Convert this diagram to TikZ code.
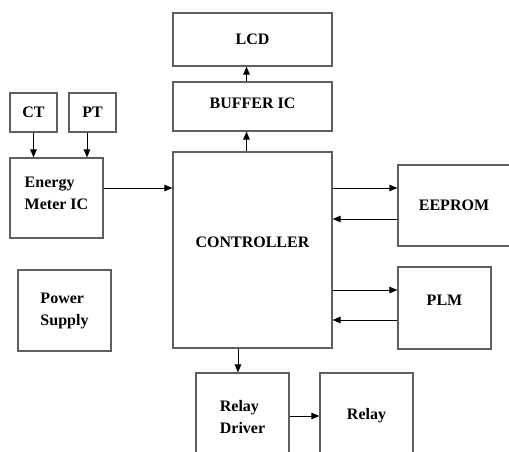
\documentclass[tikz,border=0pt]{standalone}
\usepackage{fontspec}
\setmainfont{Liberation Serif}
\usetikzlibrary{arrows.meta}
\definecolor{edge}{HTML}{5F5F5F}

\begin{document}
\begin{tikzpicture}[x=1pt,y=-1pt,font=\fontsize{16}{22}\selectfont\bfseries,
    blk/.style={draw=edge,line width=1.2pt,fill=white,inner sep=0pt,align=left},
    arr/.style={-{Triangle[length=8pt,width=6.5pt]},line width=1pt}]
        \useasboundingbox (0,0) rectangle (509,452);
        \clip (0,0) rectangle (509,452);
        \node[blk,minimum width=159,minimum height=53] (lcd) at (252.5,39.5) {LCD};
        \node[blk,minimum width=159,minimum height=49,text depth=6pt] (buf) at (252.5,106.5) {BUFFER IC};
        \node[blk,minimum width=47,minimum height=39] (ct) at (33.5,112.5) {CT};
        \node[blk,minimum width=47,minimum height=39] (pt) at (92.5,112.5) {PT};
        \node[blk,minimum width=93,minimum height=80,text depth=10pt] (em) at (56.5,198) {Energy\\Meter IC};
        \node[blk,minimum width=159,minimum height=196,text depth=16pt] (ctrl) at (252.5,250) {CONTROLLER};
        \node[blk,minimum width=112,minimum height=81] (ee) at (454,205.5) {EEPROM};
        \node[blk,minimum width=93,minimum height=82,text depth=16pt] (plm) at (444.5,308) {PLM};
        \node[blk,minimum width=93,minimum height=81] (ps) at (64.5,310.5) {Power\\Supply};
        \node[blk,minimum width=93,minimum height=97,text depth=10pt] (rd) at (242.5,421.5) {Relay\\Driver};
        \node[blk,minimum width=93,minimum height=97,text depth=15pt] (rl) at (366.5,421.5) {Relay};
        \draw[arr] (ct.south) -- (ct.south |- em.north);
        \draw[arr] ([xshift=-5.5pt]pt.south) -- ([xshift=-5.5pt]pt.south |- em.north);
        \draw[arr] ([yshift=10pt]em.east) -- ([yshift=10pt]em.east -| ctrl.west);
        \draw[arr] ([xshift=-6pt]ctrl.north) -- ([xshift=-6pt]buf.south);
        \draw[arr] ([xshift=-6pt]buf.north) -- ([xshift=-6pt]lcd.south);
        \draw[arr] ([yshift=17.5pt]ee.west -| ctrl.east) -- ([yshift=17.5pt]ee.west);
        \draw[arr] ([yshift=-13.5pt]ee.west) -- ([yshift=-13.5pt]ee.west -| ctrl.east);
        \draw[arr] ([yshift=18pt]plm.west -| ctrl.east) -- ([yshift=18pt]plm.west);
        \draw[arr] ([yshift=-12pt]plm.west) -- ([yshift=-12pt]plm.west -| ctrl.east);
        \draw[arr] ([xshift=-14.5pt]ctrl.south) -- ([xshift=-14.5pt]ctrl.south |- rd.north);
        \draw[arr] ([yshift=5.5pt]rd.east) -- ([yshift=5.5pt]rd.east -| rl.west);
      \end{tikzpicture}
\end{document}
